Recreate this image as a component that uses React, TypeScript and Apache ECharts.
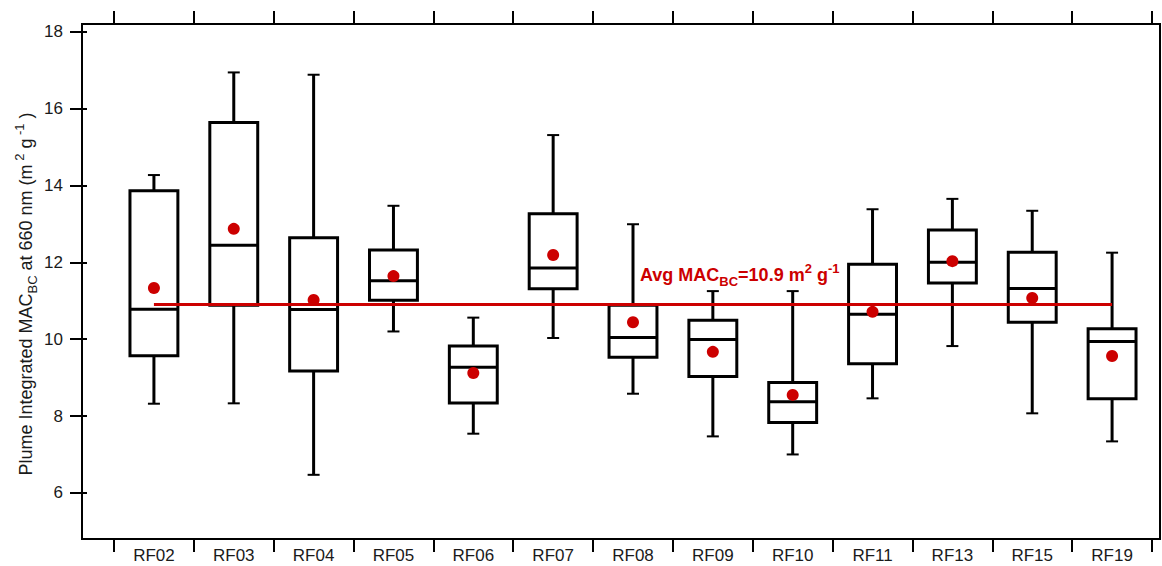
import React, { useEffect, useRef } from 'react';
import * as echarts from 'echarts';

const categories = ['RF02', 'RF03', 'RF04', 'RF05', 'RF06', 'RF07', 'RF08', 'RF09', 'RF10', 'RF11', 'RF13', 'RF15', 'RF19'];
const whiskerLow = [8.32, 8.33, 6.47, 10.2, 7.54, 10.03, 8.58, 7.47, 7.0, 8.46, 9.82, 8.07, 7.34];
const q1 = [9.57, 10.88, 9.17, 11.01, 8.34, 11.31, 9.53, 9.03, 7.83, 9.36, 11.46, 10.44, 8.45];
const median = [10.78, 12.44, 10.77, 11.52, 9.27, 11.85, 10.04, 9.99, 8.37, 10.65, 12.0, 11.32, 9.94];
const q3 = [13.86, 15.64, 12.64, 12.32, 9.82, 13.26, 10.88, 10.49, 8.87, 11.95, 12.84, 12.26, 10.27];
const whiskerHigh = [14.27, 16.94, 16.88, 13.47, 10.56, 15.31, 12.99, 11.25, 11.25, 13.38, 13.65, 13.34, 12.25];
const means = [11.33, 12.87, 11.02, 11.64, 9.12, 12.19, 10.44, 9.67, 8.55, 10.71, 12.03, 11.07, 9.56];
const avgMAC = 10.9;
const yTicks = [6, 8, 10, 12, 14, 16, 18];

const FONT = 'Liberation Sans, Arial, sans-serif';
const RED = '#cc0000';

export default function App() {
  const ref = useRef<HTMLDivElement>(null);
  useEffect(() => {
    const chart = echarts.init(ref.current!, null, { renderer: 'svg' });
    const boxData = categories.map((c, i) => [i, whiskerLow[i], q1[i], median[i], q3[i], whiskerHigh[i]]);
    const option: any = {
      animation: false,
      backgroundColor: '#fff',
      textStyle: { fontFamily: FONT },
      grid: [
        { left: 82, right: 2, top: 24, bottom: 27, show: true, borderColor: '#000', borderWidth: 2, backgroundColor: 'transparent' },
        { left: 114, right: 10, top: 24, bottom: 27 },
      ],
      xAxis: [
        { type: 'value', gridIndex: 0, show: false, min: 0, max: 1 },
        {
          type: 'category', gridIndex: 1, position: 'bottom', data: categories, boundaryGap: true,
          axisLine: { show: false },
          axisTick: { show: true, length: 13, lineStyle: { color: '#000', width: 2 } },
          axisLabel: { fontSize: 17, color: '#1a1a1a', margin: 8, fontFamily: FONT },
          splitLine: { show: false },
        },
        {
          type: 'category', gridIndex: 1, position: 'top', data: categories, boundaryGap: true,
          axisLine: { show: false },
          axisTick: { show: true, length: 13, lineStyle: { color: '#000', width: 2 } },
          axisLabel: { show: false },
          splitLine: { show: false },
        },
      ],
      yAxis: [
        {
          type: 'value', gridIndex: 0, position: 'right', min: 4.8, max: 18.2,
          axisLine: { show: false },
          axisTick: { show: true, length: 5, lineStyle: { color: '#000', width: 2 }, customValues: yTicks },
          axisLabel: { show: false },
          splitLine: { show: false },
        },
        {
          type: 'value', gridIndex: 1, position: 'left', min: 4.8, max: 18.2, offset: 32,
          axisLine: { show: false },
          axisTick: { show: true, length: 12, lineStyle: { color: '#000', width: 2 }, customValues: yTicks },
          axisLabel: { fontSize: 17, color: '#1a1a1a', margin: 19, fontFamily: FONT, customValues: yTicks },
          splitLine: { show: false },
        },
      ],
      series: [
        {
          type: 'custom', xAxisIndex: 1, yAxisIndex: 1, z: 2,
          data: boxData,
          encode: { x: 0, y: [1, 2, 3, 4, 5] },
          renderItem: (params: any, api: any) => {
            const idx = api.value(0);
            const pLow = api.coord([idx, api.value(1)]);
            const pQ1 = api.coord([idx, api.value(2)]);
            const pMed = api.coord([idx, api.value(3)]);
            const pQ3 = api.coord([idx, api.value(4)]);
            const pHigh = api.coord([idx, api.value(5)]);
            const band = api.size([1, 0])[0];
            const hw = band * 0.3;
            const cap = 6;
            const x = pMed[0];
            const ls = { stroke: '#000', lineWidth: 3, fill: 'none' };
            const cs = { stroke: '#000', lineWidth: 2 };
            return {
              type: 'group',
              children: [
                { type: 'line', shape: { x1: x, y1: pHigh[1], x2: x, y2: pQ3[1] }, style: ls },
                { type: 'line', shape: { x1: x, y1: pQ1[1], x2: x, y2: pLow[1] }, style: ls },
                { type: 'line', shape: { x1: x - cap, y1: pHigh[1], x2: x + cap, y2: pHigh[1] }, style: cs },
                { type: 'line', shape: { x1: x - cap, y1: pLow[1], x2: x + cap, y2: pLow[1] }, style: cs },
                { type: 'rect', shape: { x: x - hw, y: pQ3[1], width: hw * 2, height: pQ1[1] - pQ3[1] }, style: { stroke: '#000', lineWidth: 3, fill: 'none' } },
                { type: 'line', shape: { x1: x - hw, y1: pMed[1], x2: x + hw, y2: pMed[1] }, style: ls },
              ],
            };
          },
        },
        {
          type: 'line', xAxisIndex: 1, yAxisIndex: 1, z: 3,
          data: [[categories[0], avgMAC], [categories[categories.length - 1], avgMAC]],
          symbol: 'none',
          lineStyle: { color: RED, width: 3 },
        },
        {
          type: 'scatter', xAxisIndex: 1, yAxisIndex: 1, z: 4,
          data: means,
          symbol: 'circle', symbolSize: 12,
          itemStyle: { color: RED, opacity: 1 },
        },
      ],
      graphic: [
        {
          type: 'text', left: 640, top: 262, z: 10,
          style: {
            text: `{a|Avg MAC}{b|BC}{a|=${avgMAC.toFixed(1)} m}{c|2}{a| g}{c|-1}`,
            rich: {
              a: { fontSize: 18, fontWeight: 'bold', fill: RED, fontFamily: FONT, lineHeight: 26 },
              b: { fontSize: 13, fontWeight: 'bold', fill: RED, fontFamily: FONT, verticalAlign: 'bottom', lineHeight: 13 },
              c: { fontSize: 13, fontWeight: 'bold', fill: RED, fontFamily: FONT, verticalAlign: 'top', lineHeight: 13 },
            },
          },
        },
        {
          type: 'text', x: 26, y: 294, rotation: Math.PI / 2, z: 10,
          style: {
            text: '{t|Plume Integrated MAC}{s|BC}{t| at 660 nm (m}{p| 2}{t| g}{p| -1}{t| )}',
            align: 'center', verticalAlign: 'middle',
            rich: {
              t: { fontSize: 18, fill: '#1a1a1a', fontFamily: FONT, lineHeight: 26 },
              s: { fontSize: 13, fill: '#1a1a1a', fontFamily: FONT, verticalAlign: 'bottom', lineHeight: 13 },
              p: { fontSize: 13, fill: '#1a1a1a', fontFamily: FONT, verticalAlign: 'top', lineHeight: 13 },
            },
          },
        },
      ],
    };
    chart.setOption(option);
    return () => chart.dispose();
  }, []);
  return <div ref={ref} style={{ position: 'absolute', left: 0, top: 0, width: 1162, height: 566 }} />;
}
